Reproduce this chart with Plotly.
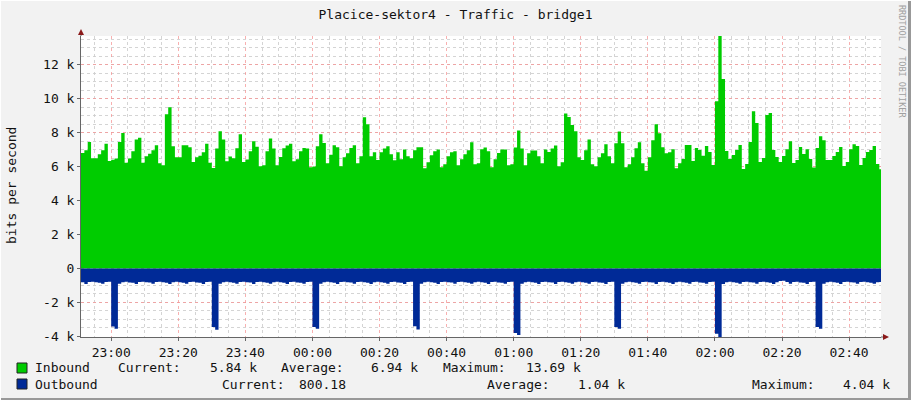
import plotly.graph_objs as go
import pandas as pd

# values in k bits per second, one per minute starting 22:51
inbound = [
    6.8, 6.96, 7.45, 6.49, 6.49, 6.73, 6.96, 7.35, 6.33, 6.4,
    6.47, 7.45, 7.98, 6.22, 6.47, 6.9, 7.6, 7.7, 6.22, 6.6,
    6.76, 6.96, 7.25, 6.2, 6.08, 9.08, 9.49, 7.2, 6.55, 6.55,
    7.25, 7.25, 7.14, 6.27, 6.55, 6.63, 6.84, 7.35, 6.22, 5.92,
    7.06, 8.08, 7.59, 6.31, 6.59, 6.49, 7.08, 7.9, 6.27, 6.41,
    6.9, 7.49, 7.16, 6.02, 6.08, 6.9, 7.65, 7.06, 6.08, 6.57,
    7.08, 7.24, 7.35, 6.31, 6.43, 6.9, 7.1, 7.06, 5.96, 6.0,
    7.2, 7.9, 7.39, 6.2, 6.69, 7.25, 7.14, 6.02, 6.55, 6.78,
    7.1, 7.25, 6.2, 6.6, 8.9, 8.49, 6.6, 6.84, 6.39, 6.84,
    7.06, 7.2, 6.73, 6.37, 6.84, 6.43, 7.0, 6.6, 6.49, 6.96,
    7.14, 7.14, 5.9, 6.25, 6.67, 6.9, 7.0, 5.96, 6.14, 6.6,
    6.84, 6.9, 6.08, 6.43, 6.73, 6.96, 7.43, 6.14, 6.2,
    7.02, 7.12, 6.9, 5.96, 6.43, 6.8, 7.0, 7.0, 6.08, 6.14,
    7.12, 8.12, 7.06, 6.08, 6.78, 6.94, 6.94, 6.6, 6.2, 7.0,
    6.86, 7.06, 7.24, 6.02, 6.25, 9.12, 8.92, 8.45, 8.08, 6.55,
    6.39, 6.96, 7.59, 6.14, 6.02, 6.55, 6.78, 7.31, 6.6, 6.2,
    7.37, 8.06, 7.37, 5.96, 6.14, 6.55, 7.08, 7.43, 6.2, 5.75,
    6.55, 7.55, 8.49, 7.96, 7.14, 6.78, 6.84, 7.02, 5.9, 6.2,
    6.44, 7.27, 7.27, 6.32, 7.09, 6.98, 6.64, 7.21, 6.85, 6.09,
    9.85, 13.69, 11.15, 6.91, 6.44, 6.68, 6.98, 7.27, 5.86, 6.15,
    7.44, 9.26, 8.56, 6.27, 6.5, 9.03, 9.15, 6.98, 6.57, 6.27,
    6.62, 7.02, 7.49, 6.21, 6.38, 7.15, 6.74, 7.02, 6.44, 5.95,
    7.09, 7.79, 7.55, 6.38, 6.38, 6.62, 6.85, 7.15, 6.03, 6.27,
    7.02, 7.32, 7.21, 6.09, 6.5, 6.85, 6.98, 7.21, 6.15, 5.84,
]

outbound = [
    -0.82, -0.92, -0.80, -0.78, -0.82, -0.84, -0.91, -0.80, -0.79, -3.42,
    -3.56, -0.90, -0.81, -0.78, -0.83, -0.84, -0.92, -0.80, -0.78, -0.82,
    -0.83, -0.90, -0.80, -0.79, -0.82, -0.85, -0.92, -0.81, -0.78, -0.82,
    -0.84, -0.91, -0.80, -0.78, -0.83, -0.84, -0.92, -0.80, -0.79, -3.45,
    -3.62, -0.90, -0.81, -0.78, -0.82, -0.84, -0.91, -0.80, -0.78, -0.82,
    -0.83, -0.92, -0.80, -0.79, -0.82, -0.85, -0.90, -0.81, -0.78, -0.82,
    -0.84, -0.92, -0.80, -0.78, -0.83, -0.84, -0.91, -0.80, -0.79, -3.45,
    -3.55, -0.90, -0.81, -0.78, -0.82, -0.84, -0.92, -0.80, -0.78, -0.82,
    -0.83, -0.91, -0.80, -0.79, -0.82, -0.85, -0.92, -0.81, -0.78, -0.82,
    -0.84, -0.90, -0.80, -0.78, -0.83, -0.84, -0.92, -0.80, -0.79, -3.40,
    -3.60, -0.91, -0.81, -0.78, -0.82, -0.84, -0.92, -0.80, -0.78, -0.82,
    -0.83, -0.90, -0.80, -0.79, -0.82, -0.85, -0.91, -0.81, -0.78, -0.82,
    -0.84, -0.92, -0.80, -0.78, -0.83, -0.84, -0.90, -0.80, -0.79, -3.80,
    -3.92, -0.91, -0.81, -0.78, -0.82, -0.84, -0.92, -0.80, -0.78, -0.82,
    -0.83, -0.92, -0.80, -0.79, -0.82, -0.85, -0.90, -0.81, -0.78, -0.82,
    -0.84, -0.91, -0.80, -0.78, -0.83, -0.84, -0.92, -0.80, -0.79, -3.45,
    -3.55, -0.90, -0.81, -0.78, -0.82, -0.84, -0.91, -0.80, -0.78, -0.82,
    -0.83, -0.92, -0.80, -0.79, -0.82, -0.85, -0.92, -0.81, -0.78, -0.82,
    -0.84, -0.90, -0.80, -0.78, -0.83, -0.84, -0.91, -0.80, -0.79, -3.85,
    -4.04, -0.92, -0.81, -0.78, -0.82, -0.84, -0.90, -0.80, -0.78, -0.82,
    -0.83, -0.91, -0.80, -0.79, -0.82, -0.85, -0.92, -0.81, -0.74, -0.72,
    -0.80, -0.90, -0.80, -0.78, -0.83, -0.84, -0.92, -0.80, -0.79, -3.45,
    -3.55, -0.91, -0.81, -0.78, -0.82, -0.84, -0.92, -0.80, -0.78, -0.82,
    -0.83, -0.90, -0.80, -0.79, -0.82, -0.85, -0.91, -0.81, -0.80,
]

y_ticks = [-4, -2, 0, 2, 4, 6, 8, 10, 12]
y_labels = ["-4 k", "-2 k", "0", "2 k", "4 k", "6 k", "8 k", "10 k", "12 k"]

legend_rows = [
    ("Inbound", "#00CC00", [("Current:", "5.84 k"), ("Average:", "6.94 k"), ("Maximum:", "13.69 k")]),
    ("Outbound", "#002A97", [("Current:", "800.18"), ("Average:", "1.04 k"), ("Maximum:", "4.04 k")]),
]

times = pd.date_range("2024-01-01 22:51", periods=len(inbound), freq="1min")
t_ext = list(times) + [times[-1] + pd.Timedelta(minutes=1)]

FONT = "DejaVu Sans Mono"
L, R, T, B = 81, 30, 36, 63
W, H = 911, 400
PW, PH = W - L - R, H - T - B


def px(x):
    return (x - L) / PW


def py(y):
    return (H - B - y) / PH


fig = go.Figure()
fig.add_trace(go.Scatter(x=t_ext, y=inbound + [inbound[-1]], mode="lines",
                         line=dict(shape="hv", width=0, color="#00CC00"),
                         fill="tozeroy", fillcolor="#00CC00", hoverinfo="skip"))
fig.add_trace(go.Scatter(x=t_ext, y=outbound + [outbound[-1]], mode="lines",
                         line=dict(shape="hv", width=0, color="#002A97"),
                         fill="tozeroy", fillcolor="#002A97", hoverinfo="skip"))

minor_grid = "rgba(205,205,205,0.85)"
major_grid = "rgba(245,150,150,0.75)"

fig.update_layout(
    width=W, height=H,
    margin=dict(l=L, r=R, t=T, b=B, pad=0),
    paper_bgcolor="#F2F2F2", plot_bgcolor="white",
    showlegend=False,
    font=dict(family=FONT, size=13, color="#111"),
    title=dict(text="Placice-sektor4 - Traffic - bridge1", x=0.5, xref="container",
               y=1 - 14 / H, yref="container", xanchor="center", yanchor="middle",
               font=dict(family=FONT, size=13, color="#111")),
    xaxis=dict(type="date", range=["2024-01-01 22:51:00", "2024-01-02 02:49:30"],
               tick0="2024-01-01 23:00", dtick=1200000, tickformat="%H:%M",
               showgrid=True, gridcolor=major_grid, griddash="dot", gridwidth=1,
               minor=dict(tick0="2024-01-01 23:00", dtick=300000, showgrid=True,
                          gridcolor=minor_grid, griddash="dot", ticks=""),
               showline=True, linecolor="#666", linewidth=1,
               ticks="outside", ticklen=3, tickcolor="#666",
               tickfont=dict(family=FONT, size=13, color="#111")),
    yaxis=dict(range=[-4.04, 13.69], tickvals=y_ticks, ticktext=y_labels,
               showgrid=True, gridcolor=major_grid, griddash="dot", gridwidth=1,
               minor=dict(tick0=0, dtick=0.5, showgrid=True, gridcolor=minor_grid,
                          griddash="dot", ticks=""),
               zeroline=False, showline=True, linecolor="#666", linewidth=1,
               ticks="outside", ticklen=3, tickcolor="#666",
               tickfont=dict(family=FONT, size=13, color="#111")),
)

# axis extensions and arrowheads
shapes = [
    dict(type="line", xref="paper", yref="paper", x0=px(81), x1=px(81), y0=1, y1=py(33),
         line=dict(color="#666", width=1)),
    dict(type="path", xref="paper", yref="paper",
         path=f"M {px(78)} {py(35)} L {px(84)} {py(35)} L {px(81)} {py(29)} Z",
         fillcolor="#8B1A1A", line=dict(width=0)),
    dict(type="line", xref="paper", yref="paper", x0=1, x1=px(884), y0=0, y1=0,
         line=dict(color="#666", width=1)),
    dict(type="path", xref="paper", yref="paper",
         path=f"M {px(883)} {py(334)} L {px(883)} {py(340)} L {px(889)} {py(337)} Z",
         fillcolor="#8B1A1A", line=dict(width=0)),
    # outer border
    dict(type="line", xref="paper", yref="paper", x0=px(0), x1=px(W), y0=py(H - 1), y1=py(H - 1),
         line=dict(color="#999", width=2)),
    dict(type="line", xref="paper", yref="paper", x0=px(W - 1.5), x1=px(W - 1.5), y0=py(0), y1=py(H),
         line=dict(color="#999", width=3)),
    dict(type="line", xref="paper", yref="paper", x0=px(0), x1=px(W), y0=py(0.5), y1=py(0.5),
         line=dict(color="#FFFFFF", width=1)),
    dict(type="line", xref="paper", yref="paper", x0=px(0.5), x1=px(0.5), y0=py(0), y1=py(H),
         line=dict(color="#FFFFFF", width=1)),
]

annotations = [
    dict(text="bits per second", xref="paper", yref="paper", x=px(11), y=py(186),
         textangle=-90, showarrow=False, xanchor="center", yanchor="middle",
         font=dict(family=FONT, size=13, color="#111")),
    dict(text="RRDTOOL / TOBI OETIKER", xref="paper", yref="paper", x=px(902), y=py(61),
         textangle=90, showarrow=False, xanchor="center", yanchor="middle",
         font=dict(family=FONT, size=8.5, color="#A0A0A0")),
]

row_y = [368, 384]
label_x = [[116, 279, 441], [220, 485, 750]]
value_right = [[259, 420, 583], [348, 627, 892]]
for i, (name, color, stats) in enumerate(legend_rows):
    yy = row_y[i]
    shapes.append(dict(type="rect", xref="paper", yref="paper",
                       x0=px(17), x1=px(27), y0=py(yy - 5), y1=py(yy + 5),
                       fillcolor=color, line=dict(color="#222", width=1)))
    annotations.append(dict(text=name, xref="paper", yref="paper", x=px(33), y=py(yy),
                            showarrow=False, xanchor="left", yanchor="middle"))
    for j, (lab, val) in enumerate(stats):
        annotations.append(dict(text=lab, xref="paper", yref="paper", x=px(label_x[i][j]),
                                y=py(yy), showarrow=False, xanchor="left", yanchor="middle"))
        annotations.append(dict(text=val, xref="paper", yref="paper", x=px(value_right[i][j]),
                                y=py(yy), showarrow=False, xanchor="right", yanchor="middle"))

fig.update_layout(shapes=shapes, annotations=annotations)
fig.write_html("out.html", config={"displayModeBar": False},
               post_script="document.body.style.margin='0';")
